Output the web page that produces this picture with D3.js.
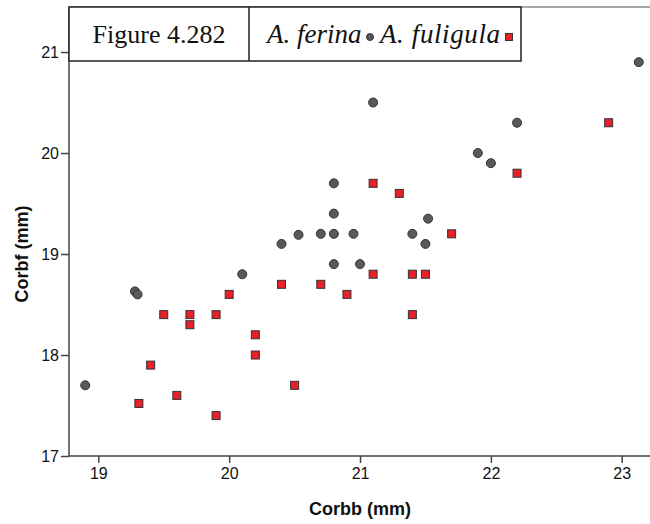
<!DOCTYPE html>
<html>
    <head>
        <title></title>
    </head>
    <body>
        <style>
            body {
                margin: 0;
                background: white;
            }
        </style>
        <script src="https://cdnjs.cloudflare.com/ajax/libs/d3/7.8.5/d3.min.js" charset="utf-8"></script>

        <script>

        var w = 650;
        var h = 524;

        // A. ferina (grey circles)
        var ferinaX = [18.9, 19.28, 19.3, 20.1, 20.4, 20.53, 20.7, 20.8, 20.95, 20.8, 20.8, 20.8, 21.0, 21.1, 21.4, 21.52, 21.5, 21.9, 22.0, 22.2, 23.13];
        var ferinaY = [17.7, 18.63, 18.6, 18.8, 19.1, 19.19, 19.2, 19.2, 19.2, 19.4, 19.7, 18.9, 18.9, 20.5, 19.2, 19.35, 19.1, 20.0, 19.9, 20.3, 20.9];

        // A. fuligula (red squares)
        var fuligulaX = [19.31, 19.4, 19.5, 19.6, 19.7, 19.7, 19.9, 19.9, 20.0, 20.2, 20.2, 20.4, 20.5, 20.7, 20.9, 21.1, 21.1, 21.3, 21.4, 21.4, 21.5, 21.7, 22.2, 22.9];
        var fuligulaY = [17.52, 17.9, 18.4, 17.6, 18.4, 18.3, 18.4, 17.4, 18.6, 18.2, 18.0, 18.7, 17.7, 18.7, 18.6, 19.7, 18.8, 19.6, 18.8, 18.4, 18.8, 19.2, 19.8, 20.3];

        var xTicks = [19, 20, 21, 22, 23];
        var yTicks = [17, 18, 19, 20, 21];
        var figureLabel = "Figure 4.282";
        var seriesNames = ["A. ferina", "A. fuligula"];

        var margin = {left: 69, right: 0, top: 7, bottom: 68};

        var xScale = d3.scaleLinear()
                       .domain([18.776, 23.216])
                       .range([margin.left, w - margin.right]);

        var yScale = d3.scaleLinear()
                       .domain([17, 21.446])
                       .range([h - margin.bottom, margin.top]);

        var svg = d3.select("body")
                    .append("svg")
                    .attr("width", w)
                    .attr("height", h);

        // top frame line
        svg.append("line")
            .attr("x1", margin.left)
            .attr("x2", w)
            .attr("y1", yScale(21.446))
            .attr("y2", yScale(21.446))
            .attr("stroke", "#8a8a8a")
            .attr("stroke-width", 1.5);

        //Axes
        var xAxis = d3.axisBottom(xScale)
                      .tickValues(xTicks)
                      .tickFormat(d3.format("d"))
                      .tickSizeInner(7)
                      .tickSizeOuter(0)
                      .tickPadding(5);

        var yAxis = d3.axisLeft(yScale)
                      .tickValues(yTicks)
                      .tickFormat(d3.format("d"))
                      .tickSizeInner(8)
                      .tickSizeOuter(0)
                      .tickPadding(2);

        var gx = svg.append("g")
            .attr("transform", "translate(0," + yScale(17) + ")")
            .call(xAxis);

        var gy = svg.append("g")
            .attr("transform", "translate(" + margin.left + ",0)")
            .call(yAxis);

        [gx, gy].forEach(function(g) {
            g.selectAll("path, line")
                .attr("stroke", "#444")
                .attr("stroke-width", 1.5);
            g.selectAll("text")
                .attr("fill", "#111")
                .attr("font-family", "'Liberation Sans', Arial, sans-serif")
                .attr("font-size", "16px");
        });

        gx.select(".domain").attr("d", "M" + margin.left + ",0H" + w);
        gy.select(".domain").attr("d", "M0," + yScale(17) + "V" + yScale(21.446));

        //Axis titles
        svg.append("text")
            .text("Corbb (mm)")
            .attr("x", xScale(21))
            .attr("y", 515)
            .attr("text-anchor", "middle")
            .attr("font-family", "'Liberation Sans', Arial, sans-serif")
            .attr("font-weight", "bold")
            .attr("font-size", "18px")
            .attr("fill", "#111");

        svg.append("text")
            .text("Corbf (mm)")
            .attr("transform", "translate(28," + yScale(19) + ") rotate(-90)")
            .attr("text-anchor", "middle")
            .attr("font-family", "'Liberation Sans', Arial, sans-serif")
            .attr("font-weight", "bold")
            .attr("font-size", "18px")
            .attr("fill", "#111");

        //Points
        var ferina = ferinaX.map(function(d, i) { return {x: d, y: ferinaY[i]}; });
        var fuligula = fuligulaX.map(function(d, i) { return {x: d, y: fuligulaY[i]}; });

        svg.selectAll("circle.ferina")
            .data(ferina)
            .enter()
            .append("circle")
            .attr("class", "ferina")
            .attr("cx", function(d) { return xScale(d.x); })
            .attr("cy", function(d) { return yScale(d.y); })
            .attr("r", 4.5)
            .attr("fill", "#595959")
            .attr("stroke", "#333")
            .attr("stroke-width", 1);

        svg.selectAll("rect.fuligula")
            .data(fuligula)
            .enter()
            .append("rect")
            .attr("class", "fuligula")
            .attr("x", function(d) { return xScale(d.x) - 4; })
            .attr("y", function(d) { return yScale(d.y) - 4; })
            .attr("width", 8)
            .attr("height", 8)
            .attr("fill", "#e8202a")
            .attr("stroke", "#333")
            .attr("stroke-width", 1);

        //Legend box
        var legend = svg.append("g");

        legend.append("rect")
            .attr("x", 69)
            .attr("y", 7)
            .attr("width", 452)
            .attr("height", 54)
            .attr("fill", "white")
            .attr("stroke", "#222")
            .attr("stroke-width", 1.5);

        legend.append("line")
            .attr("x1", 249)
            .attr("x2", 249)
            .attr("y1", 7)
            .attr("y2", 61)
            .attr("stroke", "#222")
            .attr("stroke-width", 1.5);

        legend.append("text")
            .text(figureLabel)
            .attr("x", 159)
            .attr("y", 43)
            .attr("text-anchor", "middle")
            .attr("font-family", "'Liberation Serif', 'Times New Roman', serif")
            .attr("font-size", "26px")
            .attr("fill", "#111");

        legend.append("text")
            .text(seriesNames[0])
            .attr("x", 267)
            .attr("y", 43)
            .attr("font-family", "'Liberation Serif', 'Times New Roman', serif")
            .attr("font-style", "italic")
            .attr("font-size", "27px")
            .attr("fill", "#111");

        legend.append("circle")
            .attr("cx", 370)
            .attr("cy", 37)
            .attr("r", 3.5)
            .attr("fill", "#595959")
            .attr("stroke", "#333");

        legend.append("text")
            .text(seriesNames[1])
            .attr("x", 380)
            .attr("y", 43)
            .attr("font-family", "'Liberation Serif', 'Times New Roman', serif")
            .attr("font-style", "italic")
            .attr("font-size", "27px")
            .attr("textLength", 120)
            .attr("fill", "#111");

        legend.append("rect")
            .attr("x", 505.5)
            .attr("y", 33.5)
            .attr("width", 7)
            .attr("height", 7)
            .attr("fill", "#e8202a")
            .attr("stroke", "#333");

        </script>
    </body>
</html>
